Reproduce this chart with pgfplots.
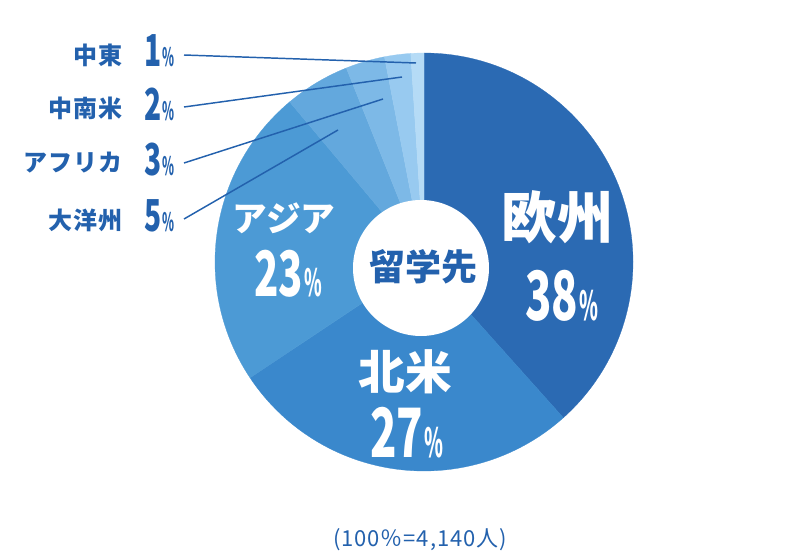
\documentclass[border=0pt]{standalone}
\usepackage{fontspec}
\usepackage{graphicx}
\usepackage{pgfplots}
\usepackage{pgfplotstable}
\pgfplotsset{compat=1.18}
\setmainfont{Noto Sans CJK JP}
\newfontfamily\jpls{Noto Sans CJK JP}[LetterSpace=4]

\definecolor{cEU}{HTML}{2B6AB3}
\definecolor{cNA}{HTML}{3A88CC}
\definecolor{cAS}{HTML}{4C9AD5}
\definecolor{cOC}{HTML}{63A8DD}
\definecolor{cAF}{HTML}{7DB9E7}
\definecolor{cLA}{HTML}{98CAF0}
\definecolor{cME}{HTML}{B5DBF6}
\definecolor{lbl}{HTML}{2361AD}

% shares in percent, drawn clockwise from 12 o'clock
\pgfplotstableread{
region share col
EU 38 cEU
NA 27 cNA
AS 23 cAS
OC 5  cOC
AF 3  cAF
LA 2  cLA
ME 1  cME
}\shares

% big condensed digits + small condensed percent sign
\newcommand{\pct}[3]{{\fontsize{#2}{#2}\selectfont\bfseries\scalebox{0.64}[1]{#1}}\hspace{1pt}{\fontsize{#3}{#3}\selectfont\bfseries\scalebox{0.48}[1]{\%}}}

\begin{document}
\begin{tikzpicture}
  \pgfplotstablegetrowsof{\shares}
  \pgfmathtruncatemacro\nrows{\pgfplotsretval-1}
  \def\total{0}
  \pgfplotsforeachungrouped \i in {0,...,\nrows}{%
    \pgfplotstablegetelem{\i}{share}\of\shares
    \pgfmathsetmacro\total{\total+\pgfplotsretval}}
  \pgfmathsetmacro\degper{360/\total}
  \begin{axis}[%
      width=600pt, height=420pt, scale only axis,%
      xmin=0, xmax=800, ymin=0, ymax=560,%
      y dir=reverse,%
      hide axis, clip=false,%
    ]
    \path (axis cs:0,0) rectangle (axis cs:800,560);
    % pie slices (radius 209px = 156.75pt)
    \def\cum{0}
    \pgfplotsforeachungrouped \i in {0,...,\nrows}{%
      \pgfplotstablegetelem{\i}{share}\of\shares \let\v\pgfplotsretval
      \pgfplotstablegetelem{\i}{col}\of\shares \let\slicecol\pgfplotsretval
      \pgfmathsetmacro\a{90-\degper*\cum}
      \pgfmathsetmacro\b{90-\degper*(\cum+\v)}
      \edef\slice{\noexpand\fill[\slicecol, draw=\slicecol, line width=0.2pt]
        (axis cs:424,262) -- ++(\a:156.75pt)
        arc[start angle=\a, end angle=\b, radius=156.75pt] -- cycle;}%
      \slice
      \pgfmathsetmacro\cum{\cum+\v}%
    }
    \fill[white] (axis cs:421,268) circle[radius=51pt];

    % labels inside
    \node[white, font=\fontsize{42}{42}\selectfont\bfseries] at (axis cs:557,217) {欧州};
    \node[white] at (axis cs:562,296) {\pct{38}{51}{30}};
    \node[white, font=\fontsize{35}{35}\selectfont\bfseries] at (axis cs:405,372) {北米};
    \node[white] at (axis cs:407,433) {\pct{27}{51}{30}};
    \node[white, font=\fontsize{26}{26}\selectfont\bfseries] at (axis cs:284,218) {アジア};
    \node[white] at (axis cs:288,274) {\pct{23}{47}{28}};
    \node[lbl, font=\fontsize{27}{27}\selectfont\bfseries] at (axis cs:423,267) {留学先};

    % leader lines
    \draw[lbl, line width=1.1pt] (axis cs:184,55) -- (axis cs:416,63);
    \draw[lbl, line width=1.1pt] (axis cs:184,107) -- (axis cs:402,77);
    \draw[lbl, line width=1.1pt] (axis cs:184,163) -- (axis cs:383,99);
    \draw[lbl, line width=1.1pt] (axis cs:184,219) -- (axis cs:338,130);

    % outside labels
    \node[lbl, anchor=east, font=\jpls\fontsize{18}{18}\selectfont\bfseries] at (axis cs:127,55) {中東};
    \node[lbl, anchor=east, font=\jpls\fontsize{18}{18}\selectfont\bfseries] at (axis cs:127,108) {中南米};
    \node[lbl, anchor=east, font=\jpls\fontsize{18}{18}\selectfont\bfseries] at (axis cs:127,163) {アフリカ};
    \node[lbl, anchor=east, font=\jpls\fontsize{18}{18}\selectfont\bfseries] at (axis cs:127,220) {大洋州};
    \node[lbl, anchor=west, inner sep=0pt] at (axis cs:144,51) {\pct{1}{33}{19}};
    \node[lbl, anchor=west, inner sep=0pt] at (axis cs:144,104) {\pct{2}{33}{19}};
    \node[lbl, anchor=west, inner sep=0pt] at (axis cs:144,160) {\pct{3}{33}{19}};
    \node[lbl, anchor=west, inner sep=0pt] at (axis cs:144,216) {\pct{5}{33}{19}};

    \node[lbl, font=\jpls\fontsize{16.5}{16.5}\selectfont] at (axis cs:420,540) {(100％=4,140人)};
  \end{axis}
\end{tikzpicture}
\end{document}
